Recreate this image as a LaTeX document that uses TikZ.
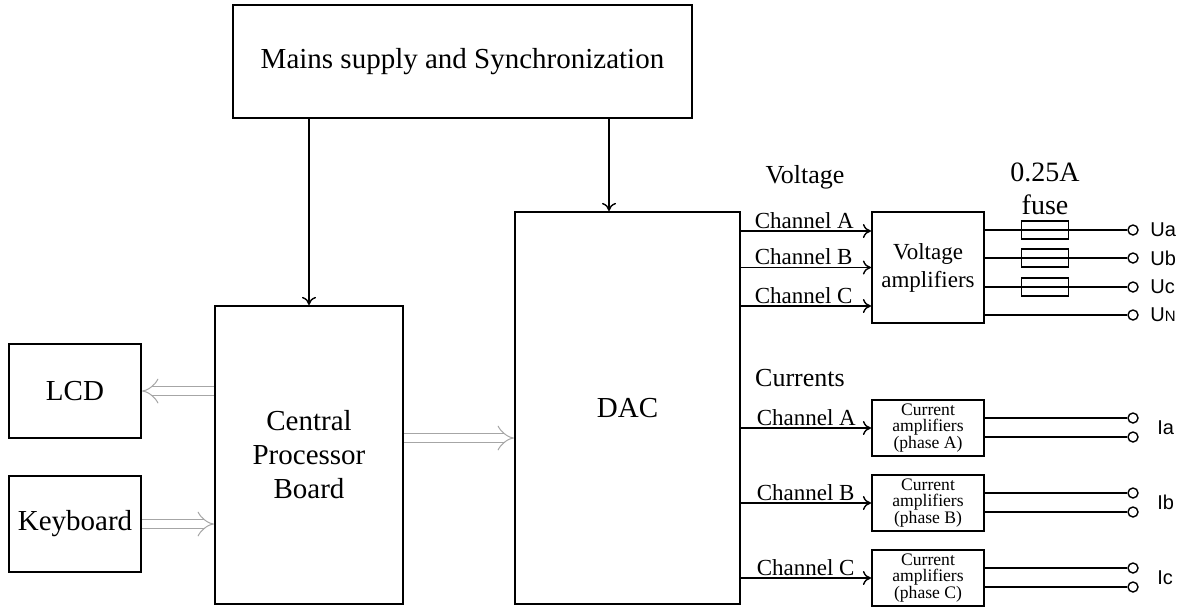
\documentclass[tikz,border=0pt]{standalone}
\usepackage{fontspec}
\setmainfont{Liberation Serif}
\newfontfamily\termfont{Liberation Sans}
\usetikzlibrary{arrows.meta,positioning}

\tikzset{
  blk/.style={draw, line width=1.1pt, inner sep=0pt, align=center},
  sig/.style={line width=0.7pt, -{To[length=4pt,width=7pt]}},
  bus/.style={draw=gray!70, double=white, double distance=4pt, line width=0.5pt,
    -{Implies[length=5pt,width=10pt]}},
  wire/.style={line width=0.9pt},
  term/.style={circle, draw, fill=white, line width=0.7pt, inner sep=0pt, minimum size=5pt},
  fuse/.style={draw, line width=0.7pt, minimum width=23.5pt, minimum height=9pt, inner sep=0pt},
  chlbl/.style={inner sep=0pt, font=\fontsize{11.5}{13}\selectfont},
  termlbl/.style={inner sep=0pt, anchor=west, font=\termfont\fontsize{10}{12}\selectfont},
  big/.style={font=\fontsize{14.5}{17}\selectfont},
  iamp/.style={blk, minimum width=56pt, minimum height=28pt, font=\fontsize{8.8}{8.4}\selectfont},
}

\begin{document}
\begin{tikzpicture}[x=0.5pt,y=-0.5pt]
\useasboundingbox (0,0) rectangle (1183,607);
\node[blk,big,minimum width=229.5pt,minimum height=56.5pt] (mains) at (462.5,61.5) {Mains supply and Synchronization};
\node[blk,big,minimum width=94pt,minimum height=149pt] (cpb) at (309,455) {Central\\Processor\\Board};
\node[blk,big,minimum width=66pt,minimum height=47pt] (lcd) at (75,391) {LCD};
\node[blk,big,minimum width=66pt,minimum height=48pt] (kbd) at (75,524) {Keyboard};
\node[blk,big,minimum width=112.5pt,minimum height=196pt] (dac) at (627.5,408) {DAC};
\node[blk,minimum width=56pt,minimum height=55.5pt,font=\fontsize{11.5}{14}\selectfont] (vamp) at (928,267.5) {Voltage\\amplifiers};
\node[iamp] (iampA) at (928,428) {Current\\amplifiers\\(phase A)};
\node[iamp] (iampB) at (928,503) {Current\\amplifiers\\(phase B)};
\node[iamp] (iampC) at (928,578) {Current\\amplifiers\\(phase C)};

\node[font=\fontsize{13}{15}\selectfont] (volt) at (805,177) {Voltage};
\node[font=\fontsize{13}{15}\selectfont] (curr) at (800,378) {Currents};
\node[font=\fontsize{14}{16}\selectfont] (amp) at (1045,172) {0.25A};
\node[font=\fontsize{14}{16}\selectfont] (fusel) at (1045,205) {fuse};

\draw[sig] (mains.south -| cpb.north) -- (cpb.north);
\coordinate (dactop) at ([xshift=-9.25pt]dac.north);
\draw[sig] (mains.south -| dactop) -- (dactop);

\draw[bus] (lcd.east -| cpb.west) -- (lcd.east);
\draw[bus] (kbd.east) -- (kbd.east -| cpb.west);
\coordinate (cpbout) at ([yshift=8.5pt]cpb.east);
\draw[bus] (cpbout) -- (cpbout -| dac.west);

\coordinate (vA) at ([yshift=18.25pt]vamp.west);
\coordinate (vB) at (vamp.west);
\coordinate (vC) at ([yshift=-19.25pt]vamp.west);
\draw[sig] (dac.east |- vA) -- node[chlbl,pos=0,anchor=base west,xshift=6.5pt,yshift=1.5pt] (lvA) {Channel A} (vA);
\draw[sig] (dac.east |- vB) -- node[chlbl,pos=0,anchor=base west,xshift=6.5pt,yshift=1.5pt] (lvB) {Channel B} (vB);
\draw[sig] (dac.east |- vC) -- node[chlbl,pos=0,anchor=base west,xshift=6.5pt,yshift=1.5pt] (lvC) {Channel C} (vC);
\draw[sig] (dac.east |- iampA.west) -- node[chlbl,pos=0,anchor=base west,xshift=7.5pt,yshift=1.5pt] (liA) {Channel A} (iampA.west);
\draw[sig] (dac.east |- iampB.west) -- node[chlbl,pos=0,anchor=base west,xshift=7.5pt,yshift=1.5pt] (liB) {Channel B} (iampB.west);
\draw[sig] (dac.east |- iampC.west) -- node[chlbl,pos=0,anchor=base west,xshift=7.5pt,yshift=1.5pt] (liC) {Channel C} (iampC.west);

\node[term] (ua) at (1133,230) {};
\node[term] (ub) at (1133,258) {};
\node[term] (uc) at (1133,287) {};
\node[term] (un) at (1133,315) {};
\draw[wire] (vamp.east |- ua) -- node[fuse,pos=0.42] (fa) {} (ua);
\draw[wire] (vamp.east |- ub) -- node[fuse,pos=0.42] (fb) {} (ub);
\draw[wire] (vamp.east |- uc) -- node[fuse,pos=0.42] (fc) {} (uc);
\draw[wire] (vamp.east |- un) -- (un);
\node[termlbl] (lua) at (1150,230) {Ua};
\node[termlbl] (lub) at (1150,258) {Ub};
\node[termlbl] (luc) at (1150,287) {Uc};
\node[termlbl] (lun) at (1150,315) {U{\fontsize{7.5}{8}\selectfont N}};

\node[term] (ia1) at (1133,418) {};
\node[term] (ia2) at (1133,437) {};
\node[term] (ib1) at (1133,493) {};
\node[term] (ib2) at (1133,512) {};
\node[term] (ic1) at (1133,568) {};
\node[term] (ic2) at (1133,587) {};
\draw[wire] (iampA.east |- ia1) -- (ia1);
\draw[wire] (iampA.east |- ia2) -- (ia2);
\draw[wire] (iampB.east |- ib1) -- (ib1);
\draw[wire] (iampB.east |- ib2) -- (ib2);
\draw[wire] (iampC.east |- ic1) -- (ic1);
\draw[wire] (iampC.east |- ic2) -- (ic2);
\node[termlbl] (lia) at (1157,427.5) {Ia};
\node[termlbl] (lib) at (1157,502.5) {Ib};
\node[termlbl] (lic) at (1157,577.5) {Ic};
\end{tikzpicture}
\end{document}
